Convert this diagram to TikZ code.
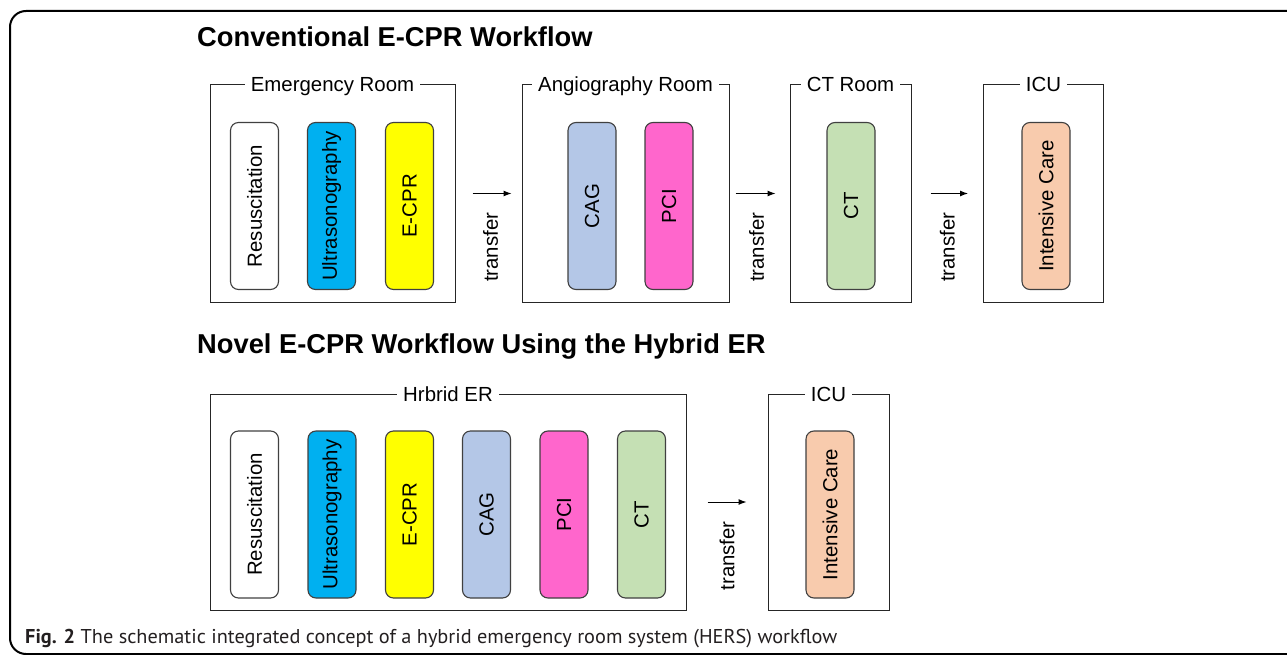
\documentclass[tikz,border=0pt]{standalone}
\usepackage{fontspec}
\setmainfont{Liberation Sans}
\newfontfamily\captfont{PT Sans}
\usepackage{graphicx}
\usetikzlibrary{
	calc,
	arrows.meta,
	positioning,
}
\definecolor{usgcol}{HTML}{00B0F0}
\definecolor{ecprcol}{HTML}{FFFF00}
\definecolor{cagcol}{HTML}{B4C7E7}
\definecolor{pcicol}{HTML}{FF66CC}
\definecolor{ctcol}{HTML}{C5E0B4}
\definecolor{icucol}{HTML}{F8CBAD}
\definecolor{captcol}{HTML}{231F20}

\begin{document}
\begin{tikzpicture}[
    x=1pt, y=-1pt,
    font=\fontsize{20.4}{24}\selectfont,
    room/.style={draw=black!85, line width=1pt, inner sep=0pt},
    roomtitle/.style={fill=white, inner xsep=6pt, inner ysep=0pt, anchor=base},
    pill/.style={draw=black!75, line width=1.1pt, rounded corners=8pt, rotate=90,
        minimum width=167pt, minimum height=48pt, inner sep=0pt},
    heading/.style={anchor=base west, inner sep=0pt, font=\fontsize{27.3}{32}\selectfont\bfseries},
    move/.style={-{Latex[length=8pt,width=6pt]}, line width=1pt},
    word/.style={rotate=90, anchor=east, inner sep=0pt},
]
\useasboundingbox (0,0) rectangle (1287,655);
\begin{scope}
\clip (0,0) rectangle (1287,655);
\draw[line width=2pt, rounded corners=16pt] (10,11) rectangle (1320,654);
\end{scope}

\node[heading] (conv) at (197,47) {Conventional E-CPR Workflow};
\node[heading] (novel) at (197,353) {Novel E-CPR Workflow Using the Hybrid ER};

\node[room, minimum width=245pt, minimum height=217pt] (er) at (332.5,193.5) {};
\node[room, minimum width=207pt, minimum height=217pt] (angio) at (625.5,193.5) {};
\node[room, minimum width=121pt, minimum height=217pt] (ctroom) at (850.5,193.5) {};
\node[room, minimum width=120pt, minimum height=217pt] (icua) at (1043.5,193.5) {};
\node[roomtitle] at ([yshift=-7.5pt]er.north) {Emergency Room};
\node[roomtitle] at ([yshift=-7.5pt]angio.north) {Angiography Room};
\node[roomtitle] at ([yshift=-7.5pt]ctroom.north) {CT Room};
\node[roomtitle] at ([yshift=-7.5pt]icua.north) {ICU};

\node[pill] (resusa) at (254.5,206) {Resuscitation};
\node[pill, fill=usgcol] (usga) at (331.5,206) {Ultrasonography};
\node[pill, fill=ecprcol] (ecpra) at (409.5,206) {E-CPR};
\node[pill, fill=cagcol] (caga) at (592,206) {CAG};
\node[pill, fill=pcicol] (pcia) at (669,206) {PCI};
\node[pill, fill=ctcol] (cta) at (851,206) {CT};
\node[pill, fill=icucol] (carea) at (1046,206) {Intensive Care};

\draw[move, shorten <=17pt, shorten >=10pt] (er) -- (angio) coordinate[pos=0.53] (ta);
\draw[move, shorten <=6pt, shorten >=14pt] (angio) -- (ctroom) coordinate[pos=0.45] (tb);
\draw[move, shorten <=19pt, shorten >=15pt] (ctroom) -- (icua) coordinate[pos=0.5] (tc);
\node[word] at ([yshift=-19pt]ta) {transfer};
\node[word] at ([yshift=-19pt]tb) {transfer};
\node[word] at ([yshift=-19pt]tc) {transfer};

\node[room, minimum width=476pt, minimum height=216pt] (hybrid) at (448,502) {};
\node[room, minimum width=121pt, minimum height=216pt] (icub) at (828.5,502) {};
\node[roomtitle] at ([yshift=-7.5pt]hybrid.north) {Hrbrid ER};
\node[roomtitle] at ([yshift=-7.5pt]icub.north) {ICU};

\node[pill] (resusb) at (254.5,514.5) {Resuscitation};
\node[pill, fill=usgcol] (usgb) at (332,514.5) {Ultrasonography};
\node[pill, fill=ecprcol] (ecprb) at (409.5,514.5) {E-CPR};
\node[pill, fill=cagcol] (cagb) at (486.5,514.5) {CAG};
\node[pill, fill=pcicol] (pcib) at (564,514.5) {PCI};
\node[pill, fill=ctcol] (ctb) at (641.5,514.5) {CT};
\node[pill, fill=icucol] (careb) at (830,514.5) {Intensive Care};

\draw[move, shorten <=21pt, shorten >=21pt] (hybrid) -- (icub) coordinate[pos=0.5] (td);
\node[word] at ([yshift=-19pt]td) {transfer};

\node[anchor=base west, inner sep=0pt, text=captcol, font=\captfont\fontsize{20}{24}\selectfont] (caption) at (25,643)
    {\resizebox{812pt}{\height}{\textbf{Fig. 2} The schematic integrated concept of a hybrid emergency room system (HERS) workflow}};
\end{tikzpicture}
\end{document}
